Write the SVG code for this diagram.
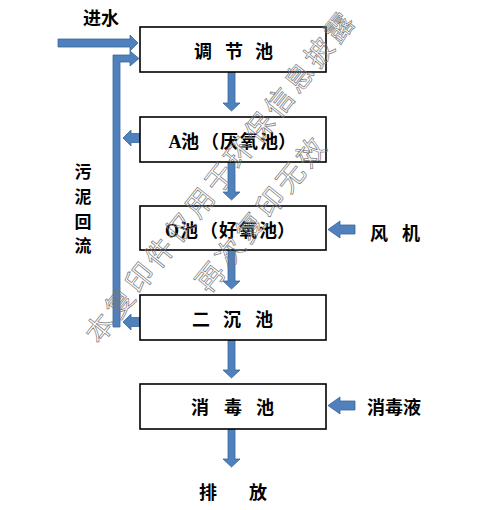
<svg xmlns="http://www.w3.org/2000/svg" width="496" height="510" viewBox="0 0 496 510">
<style>
.box{fill:#fff;stroke:#000;stroke-width:1.6}
.t{font-family:"Noto Sans CJK SC","Noto Sans",sans-serif;font-weight:bold;fill:#000}
.b{font-size:18px}
.s{font-family:"Liberation Serif",serif;font-weight:bold}
.arr{fill:#4f81bd;stroke:#3c6699;stroke-width:0.8}
.wm{font-family:"Noto Sans CJK SC",sans-serif;font-size:28px;fill:none;stroke:#7a7a7a;stroke-width:0.7;letter-spacing:4px}
</style>
<rect width="496" height="510" fill="#fff"/>
<g id="connectors">
<polygon class="arr" points="58,39 130,39 130,35 138,43 130,51 130,47 58,47"/>
<polygon class="arr" points="113,327 113,55 130,55 130,51 139,58.5 130,66 130,62 120,62 120,327"/>
<polygon class="arr" points="228,72 235,72 235,103 240,103 231.5,111 223,103 228,103"/>
<polygon class="arr" points="228,162 235,162 235,192 240,192 231.5,200 223,192 228,192"/>
<polygon class="arr" points="228,250 235,250 235,281 240,281 231.5,289 223,281 228,281"/>
<polygon class="arr" points="228,340 235,340 235,370 240,370 231.5,378 223,370 228,370"/>
<polygon class="arr" points="228,429 235,429 235,459 240,459 231.5,467 223,459 228,459"/>
<polygon class="arr" points="140,133.5 131,133.5 131,130 123,138 131,146 131,142.5 140,142.5"/>
<polygon class="arr" points="140,317.5 131,317.5 131,314 123,322 131,330 131,326.5 140,326.5"/>
<polygon class="arr" points="355,225 340,225 340,221 328,229.5 340,238 340,234 355,234"/>
<polygon class="arr" points="355,401 340,401 340,397 328,405.5 340,414 340,410 355,410"/>
</g>
<g id="n1"><rect class="box" x="140" y="27" width="186" height="45"/>
<text class="t b" x="203 234 264" y="58" text-anchor="middle">调节池</text></g>
<g id="n2"><rect class="box" x="140" y="117" width="186" height="45"/>
<text class="t b" x="175 190 210 229 249 269 287" y="148" text-anchor="middle"><tspan class="s">A</tspan>池（厌氧池）</text></g>
<g id="n3"><rect class="box" x="140" y="206" width="186" height="44"/>
<text class="t b" x="172 189 209 228 248 268 286" y="237" text-anchor="middle"><tspan class="s">O</tspan>池（好氧池）</text></g>
<g id="n4"><rect class="box" x="140" y="295" width="186" height="45"/>
<text class="t b" x="201 232 264" y="326" text-anchor="middle">二沉池</text></g>
<g id="n5"><rect class="box" x="140" y="384" width="186" height="45"/>
<text class="t b" x="200 233 265" y="414" text-anchor="middle">消毒池</text></g>
<g id="labels">
<text class="t" font-size="18" x="101" y="25" text-anchor="middle">进水</text>
<text class="t" font-size="17" x="83 83 83 83" y="178 203 228 252" text-anchor="middle">污泥回流</text>
<text class="t" font-size="18" x="379 411" y="240" text-anchor="middle">风机</text>
<text class="t" font-size="18" x="394" y="414" text-anchor="middle">消毒液</text>
<text class="t" font-size="18" x="208 258" y="499" text-anchor="middle">排放</text>
</g>
<g id="watermark">
<text class="wm" transform="translate(100,328) rotate(-51.5)" x="-14" y="10">本复印件仅用于环保信息披露</text>
<text class="wm" transform="translate(210,277) rotate(-51)" x="-14" y="10">再次复印无效</text>
</g>
</svg>
